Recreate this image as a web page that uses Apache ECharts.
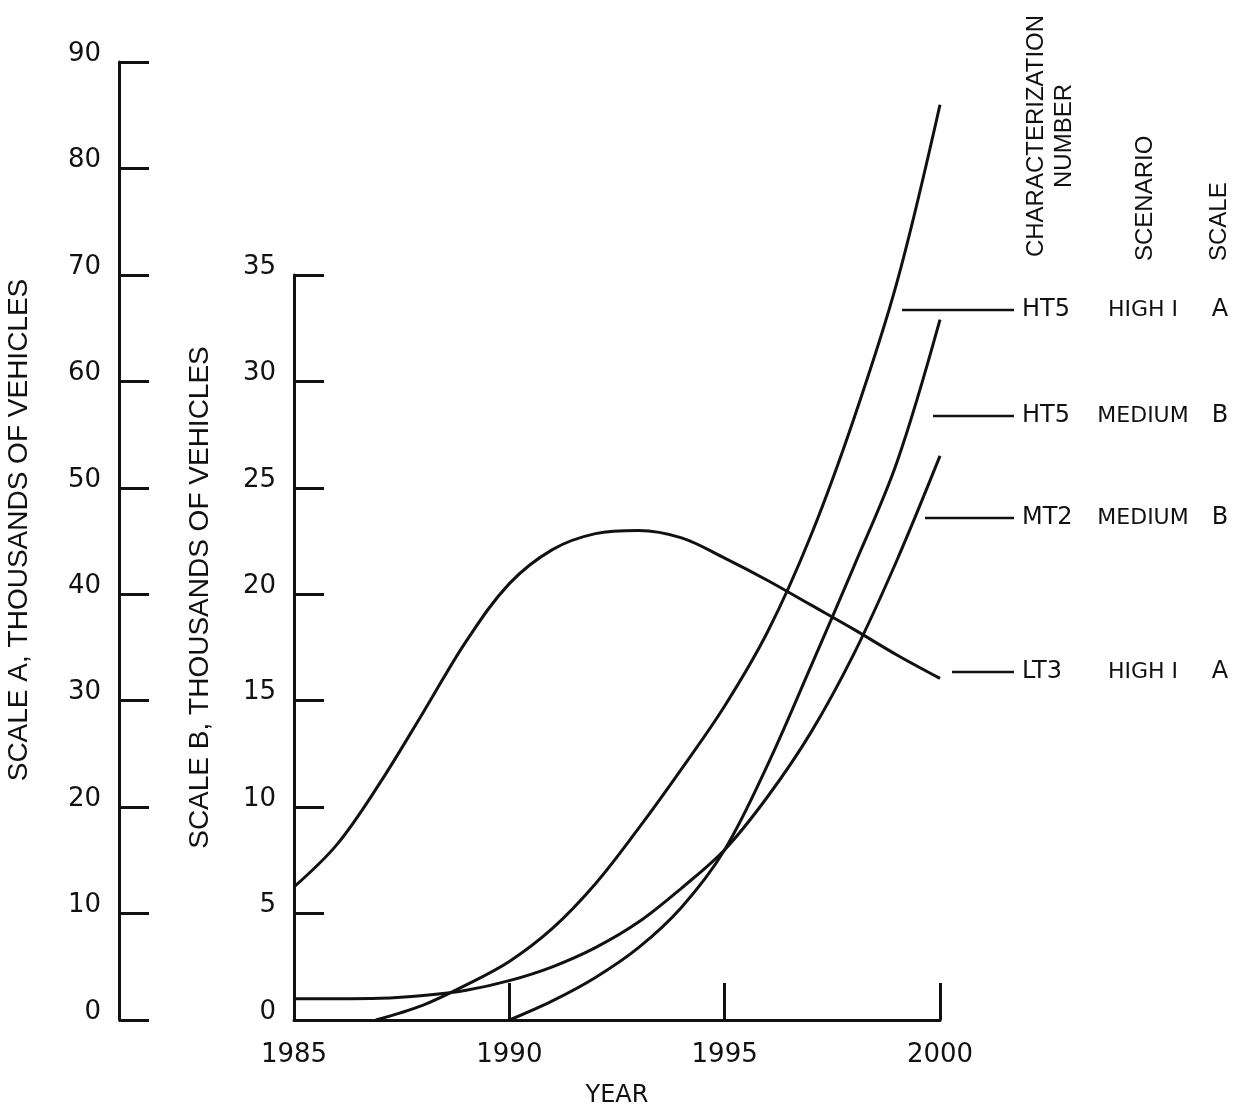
<!DOCTYPE html>
<html>
<head>
<meta charset="utf-8">
<script src="https://cdn.jsdelivr.net/npm/echarts@6/dist/echarts.min.js"></script>
<style>
  html, body { margin: 0; padding: 0; background: #fff; }
  #chart { width: 1238px; height: 1110px; }
</style>
</head>
<body>
<div id="chart"></div>
<script>
// values
var years = [1985, 1986, 1987, 1988, 1989, 1990, 1991, 1992, 1993, 1994, 1995, 1996, 1997, 1998, 1999, 2000];
var lt3HighA = [12.5, 16.5, 22.3, 28.9, 35.6, 41.0, 44.2, 45.7, 46.0, 45.3, 43.4, 41.3, 39.0, 36.7, 34.3, 32.1];
var mt2MediumB = [1.0, 1.0, 1.02, 1.15, 1.4, 1.85, 2.5, 3.4, 4.6, 6.2, 8.0, 10.5, 13.5, 17.2, 21.6, 26.5];
var ht5HighYears = [1986.9, 1988, 1989, 1990, 1991, 1992, 1993, 1994, 1995, 1996, 1997, 1998, 1999, 2000];
var ht5HighA = [0, 1.4, 3.3, 5.5, 8.6, 12.8, 18.0, 23.6, 29.5, 36.5, 45.5, 56.5, 69.3, 86.0];
var ht5MediumYears = [1990, 1991, 1992, 1993, 1994, 1995, 1996, 1997, 1998, 1999, 2000];
var ht5MediumB = [0, 0.9, 2.0, 3.4, 5.3, 8.0, 12.0, 16.6, 21.3, 26.2, 32.9];

var labelCodes = ['HT5', 'HT5', 'MT2', 'LT3'];
var labelScenarios = ['HIGH I', 'MEDIUM', 'MEDIUM', 'HIGH I'];
var labelScales = ['A', 'B', 'B', 'A'];
var columnHeads = ['CHARACTERIZATION\nNUMBER', 'SCENARIO', 'SCALE'];

function pairs(xs, ys) {
  return xs.map(function (x, i) { return [x, ys[i]]; });
}

var ink = '#111';
var digitFont = 'DejaVu Sans';
var titleFont = 'Liberation Sans';

// right hand key: leader lines + text rows
var rowY = [310, 416, 518, 672];
var lineStart = [902, 933, 925, 952];
var graphics = [];
for (var i = 0; i < labelCodes.length; i++) {
  graphics.push({
    type: 'line',
    shape: { x1: lineStart[i], y1: rowY[i], x2: 1014, y2: rowY[i] },
    style: { stroke: ink, lineWidth: 2.5 }
  });
  graphics.push({
    type: 'text', x: 1022, y: rowY[i],
    style: { text: labelCodes[i], fill: ink, fontSize: 24, fontFamily: digitFont, align: 'left', verticalAlign: 'middle' }
  });
  graphics.push({
    type: 'text', x: 1143, y: rowY[i],
    style: { text: labelScenarios[i], fill: ink, fontSize: 22, fontFamily: digitFont, align: 'center', verticalAlign: 'middle' }
  });
  graphics.push({
    type: 'text', x: 1220, y: rowY[i],
    style: { text: labelScales[i], fill: ink, fontSize: 24, fontFamily: digitFont, align: 'center', verticalAlign: 'middle' }
  });
}
// column heads, rotated
graphics.push({
  type: 'text', x: 1050, y: 136, rotation: Math.PI / 2,
  style: { text: columnHeads[0], fill: ink, fontSize: 24, fontFamily: titleFont, align: 'center', verticalAlign: 'middle', lineHeight: 28 }
});
graphics.push({
  type: 'text', x: 1145, y: 261, rotation: Math.PI / 2,
  style: { text: columnHeads[1], fill: ink, fontSize: 24, fontFamily: titleFont, align: 'left', verticalAlign: 'middle' }
});
graphics.push({
  type: 'text', x: 1219, y: 261, rotation: Math.PI / 2,
  style: { text: columnHeads[2], fill: ink, fontSize: 24, fontFamily: titleFont, align: 'left', verticalAlign: 'middle' }
});

var axisLine = { show: true, lineStyle: { color: ink, width: 3 } };
// labels sit a little above their ticks in the original
var yLabel = { color: ink, fontSize: 26, fontFamily: digitFont, margin: 18, verticalAlign: 'bottom', lineHeight: 16 };
var curve = { type: 'line', smooth: 0.35, showSymbol: false, clip: false, lineStyle: { color: ink, width: 3 } };

var chart = echarts.init(document.getElementById('chart'));
chart.setOption({
  backgroundColor: '#fff',
  animation: false,
  grid: [
    { left: 294, right: 298, top: 275, bottom: 90, outerBoundsMode: 'none' },
    { left: 119, width: 40, top: 62, bottom: 90, outerBoundsMode: 'none' }
  ],
  xAxis: [{
    gridIndex: 0,
    type: 'value',
    min: 1985, max: 2000, interval: 5,
    name: 'YEAR',
    nameLocation: 'middle',
    nameGap: 64,
    nameTextStyle: { color: ink, fontSize: 24, fontFamily: digitFont },
    axisLine: axisLine,
    axisTick: { inside: true, length: 37, lineStyle: { color: ink, width: 3 } },
    axisLabel: { color: ink, fontSize: 26, fontFamily: digitFont, margin: 22, formatter: function (v) { return String(v); } },
    splitLine: { show: false }
  }, {
    gridIndex: 1, type: 'value', min: 0, max: 1, show: false
  }],
  yAxis: [{
    // scale B
    gridIndex: 0,
    type: 'value',
    min: 0, max: 35, interval: 5,
    position: 'left',
    name: 'SCALE B, THOUSANDS OF VEHICLES',
    nameLocation: 'middle',
    nameRotate: 90,
    nameGap: 80,
    nameTextStyle: { color: ink, fontSize: 28, fontFamily: titleFont, padding: [0, 0, 0, 100] },
    axisLine: axisLine,
    axisTick: { inside: true, length: 30, lineStyle: { color: ink, width: 3 } },
    axisLabel: yLabel,
    splitLine: { show: false }
  }, {
    // scale A mapped on the main grid (hidden); same pixel size as the visible scale A
    gridIndex: 0,
    type: 'value',
    min: 0, max: 70,
    show: false
  }, {
    // scale A, drawn on its own
    gridIndex: 1,
    type: 'value',
    min: 0, max: 90, interval: 10,
    position: 'left',
    name: 'SCALE A, THOUSANDS OF VEHICLES',
    nameLocation: 'middle',
    nameRotate: 90,
    nameGap: 86,
    nameTextStyle: { color: ink, fontSize: 28, fontFamily: titleFont, padding: [0, 0, 0, 22] },
    axisLine: axisLine,
    axisTick: { inside: true, length: 30, lineStyle: { color: ink, width: 3 } },
    axisLabel: yLabel,
    splitLine: { show: false }
  }],
  series: [
    Object.assign({ name: 'HT5 HIGH I A', yAxisIndex: 1, data: pairs(ht5HighYears, ht5HighA) }, curve),
    Object.assign({ name: 'HT5 MEDIUM B', yAxisIndex: 0, data: pairs(ht5MediumYears, ht5MediumB) }, curve),
    Object.assign({ name: 'MT2 MEDIUM B', yAxisIndex: 0, data: pairs(years, mt2MediumB) }, curve),
    Object.assign({ name: 'LT3 HIGH I A', yAxisIndex: 1, data: pairs(years, lt3HighA) }, curve)
  ],
  graphic: graphics
});
</script>
</body>
</html>
